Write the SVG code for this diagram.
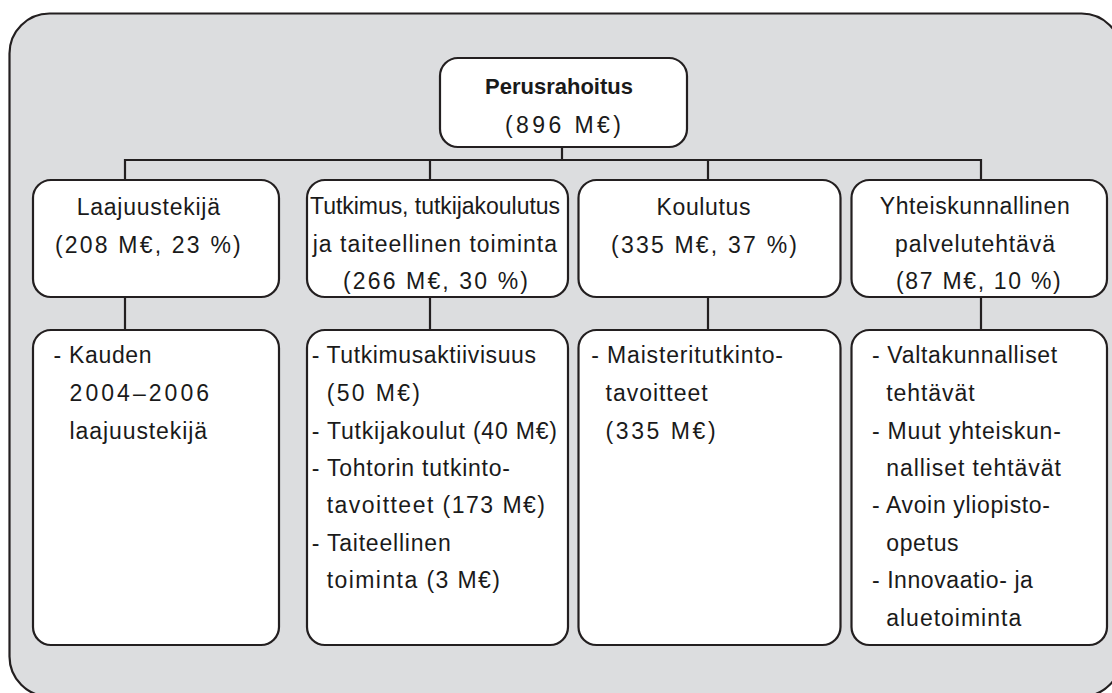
<svg xmlns="http://www.w3.org/2000/svg" width="1112" height="693" viewBox="0 0 1112 693">
<style>
.frame{fill:#dcdddf;stroke:#231f20;stroke-width:2.2}
.box{fill:#ffffff;stroke:#231f20;stroke-width:2.2}
.conn{fill:none;stroke:#231f20;stroke-width:2.2}
text{font-family:"Liberation Sans",Arial,Helvetica,sans-serif;font-size:23px;fill:#1a1a1a}
.b{font-weight:bold;font-size:22px}
</style>
<rect class="frame" x="9.5" y="13.5" width="1112" height="683" rx="40"/>
<g id="connectors">
<path class="conn" d="M562 147V160M125 180V160H981V180M430 160V180M708 160V180"/>
<path class="conn" d="M125 297V330M430 297V330M708 297V330M981 297V330"/>
</g>
<g id="perusrahoitus">
<rect class="box" x="440" y="58" width="247" height="89" rx="18"/>
<text class="b" x="485" y="94" textLength="148">Perusrahoitus</text>
<text x="505" y="133" textLength="116">(896 M€)</text>
</g>
<g id="laajuustekija">
<rect class="box" x="33" y="180" width="246" height="117" rx="18"/>
<text x="76.7" y="215" textLength="143.3">Laajuustekijä</text>
<text x="55" y="253" textLength="185.7">(208 M€, 23 %)</text>
</g>
<g id="tutkimus">
<rect class="box" x="307" y="180" width="261" height="117" rx="18"/>
<text x="310" y="214" textLength="250">Tutkimus, tutkijakoulutus</text>
<text x="312.7" y="251.7" textLength="244.3">ja taiteellinen toiminta</text>
<text x="343" y="289" textLength="185">(266 M€, 30 %)</text>
</g>
<g id="koulutus">
<rect class="box" x="578.5" y="180" width="262" height="117" rx="18"/>
<text x="656.5" y="215" textLength="94">Koulutus</text>
<text x="611" y="253" textLength="186">(335 M€, 37 %)</text>
</g>
<g id="yhteiskunnallinen">
<rect class="box" x="851.5" y="180" width="255.5" height="117" rx="18"/>
<text x="879.7" y="214" textLength="190">Yhteiskunnallinen</text>
<text x="895" y="251.7" textLength="160">palvelutehtävä</text>
<text x="896" y="289" textLength="164.7">(87 M€, 10 %)</text>
</g>
<g id="laajuustekija-detail">
<rect class="box" x="33" y="330" width="246" height="315" rx="18"/>
<text x="53.6" y="363" textLength="98">- Kauden</text>
<text x="69.6" y="401" textLength="139.4">2004–2006</text>
<text x="69.6" y="438.5" textLength="137.4">laajuustekijä</text>
</g>
<g id="tutkimus-detail">
<rect class="box" x="307" y="330" width="261" height="315" rx="18"/>
<text x="311.7" y="363" textLength="224.3">- Tutkimusaktiivisuus</text>
<text x="326.7" y="401" textLength="93.3">(50 M€)</text>
<text x="311.7" y="438.5" textLength="245.3">- Tutkijakoulut (40 M€)</text>
<text x="311.7" y="476" textLength="198.3">- Tohtorin tutkinto-</text>
<text x="326.7" y="513" textLength="218.3">tavoitteet (173 M€)</text>
<text x="311.7" y="551" textLength="139">- Taiteellinen</text>
<text x="326.7" y="588" textLength="173.3">toiminta (3 M€)</text>
</g>
<g id="koulutus-detail">
<rect class="box" x="578.5" y="330" width="262" height="315" rx="18"/>
<text x="591.2" y="363" textLength="191.8">- Maisteritutkinto-</text>
<text x="605.6" y="401" textLength="102">tavoitteet</text>
<text x="605.6" y="438.5" textLength="110">(335 M€)</text>
</g>
<g id="yhteiskunnallinen-detail">
<rect class="box" x="851.5" y="330" width="255.5" height="315" rx="18"/>
<text x="871.9" y="363" textLength="185.3">- Valtakunnalliset</text>
<text x="886.2" y="401" textLength="88.5">tehtävät</text>
<text x="871.9" y="438.5" textLength="188.9">- Muut yhteiskun-</text>
<text x="886.2" y="476" textLength="174.6">nalliset tehtävät</text>
<text x="871.9" y="513" textLength="178">- Avoin yliopisto-</text>
<text x="886.2" y="551" textLength="72.4">opetus</text>
<text x="871.9" y="588" textLength="161">- Innovaatio- ja</text>
<text x="886.2" y="626" textLength="135">aluetoiminta</text>
</g>
</svg>
